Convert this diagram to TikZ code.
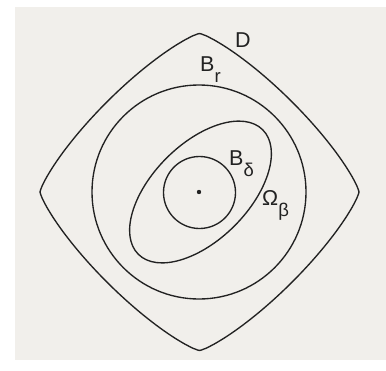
\documentclass[tikz,border=0pt]{standalone}
\usepackage{fontspec}
\setmainfont{Liberation Sans}
\definecolor{scanbg}{RGB}{241,239,235}
\definecolor{ink}{RGB}{34,34,34}
\begin{document}
\begin{tikzpicture}[x=1pt,y=-1pt,
  curve/.style={draw=ink,line width=1.35pt},
  lbl/.style={inner sep=0pt,anchor=base west,text=ink,font=\fontsize{21.5}{21.5}\selectfont}]
\newcommand{\subtxt}[1]{\raisebox{-11pt}{\fontsize{18.5}{18.5}\selectfont #1}}
\useasboundingbox (0,0) rectangle (386,370);
\fill[white] (0,0) rectangle (386,370);
\fill[scanbg] (15,7) rectangle (386,360);
% D : superellipse-like diamond with convex sides
\draw[curve,line join=round] plot[domain=0.5:359.5,samples=360]
  ({199.5+159.5*sign(cos(\x))*pow(abs(cos(\x)),1.6)},
   {192+158.5*sign(sin(\x))*pow(abs(sin(\x)),1.6)}) -- cycle;
% B_r
\draw[curve] (199,192) circle [radius=107];
% Omega_beta
\draw[curve,rotate around={45:(200.5,192)}] (200.5,192) ellipse [x radius=88, y radius=48];
% B_delta
\draw[curve] (199.5,192.5) circle [radius=36];
% centre dot
\fill[ink] (199,192) circle [radius=2.2];
% labels
\node[lbl] (D) at (235,47) {D};
\node[lbl] (Br) at (200,71) {B\subtxt{r}};
\node[lbl] (Bd) at (229,165) {B\subtxt{δ}};
\node[lbl] (Om) at (262,205) {Ω\subtxt{β}};
\end{tikzpicture}
\end{document}
